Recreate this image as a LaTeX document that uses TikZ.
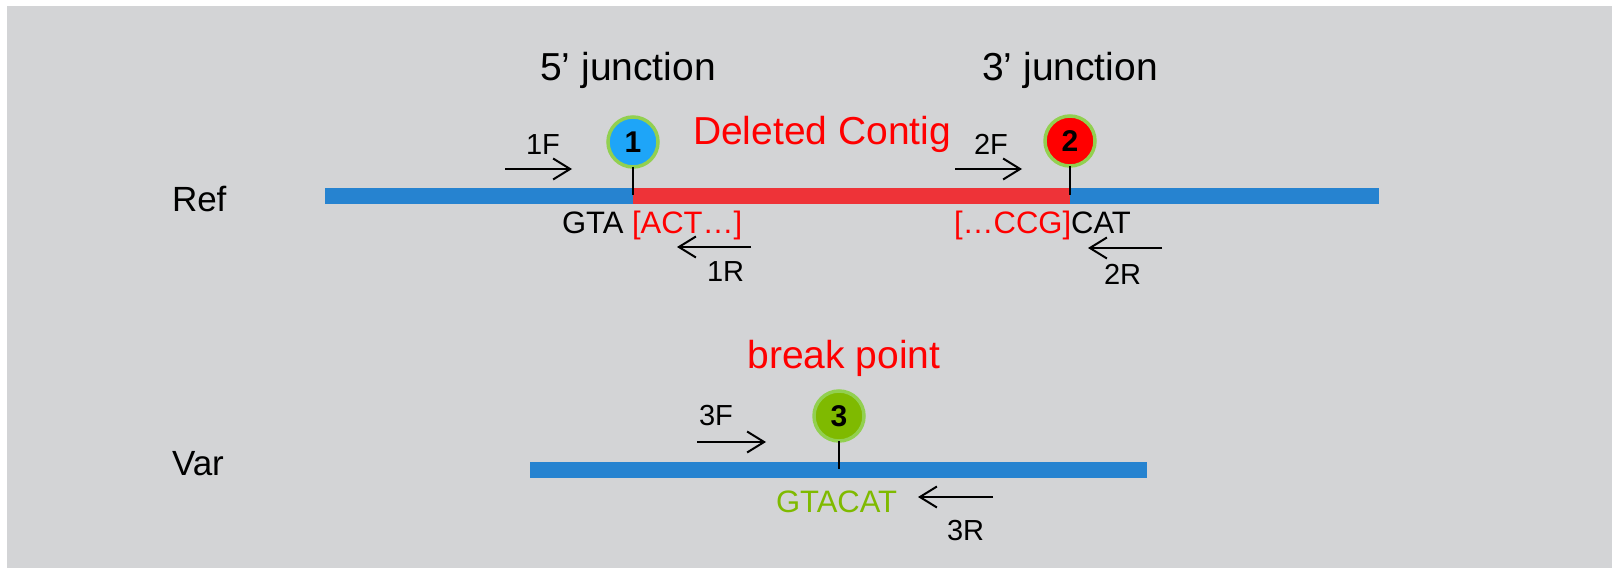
\documentclass[tikz,border=0pt]{standalone}
\usepackage{fontspec}
\setmainfont{Liberation Sans}
\usetikzlibrary{arrows.meta}
\definecolor{panel}{RGB}{211,212,214}
\definecolor{seqblue}{RGB}{38,131,208}
\definecolor{seqred}{RGB}{238,51,56}
\definecolor{dotblue}{RGB}{30,165,248}
\definecolor{dotred}{RGB}{255,0,0}
\definecolor{dotgreen}{RGB}{127,186,0}
\definecolor{ringgreen}{RGB}{146,208,80}
\definecolor{txtred}{RGB}{255,0,0}
\definecolor{txtgreen}{RGB}{127,186,0}
\tikzset{
  every node/.style={inner sep=0pt, outer sep=0pt},
  bigtxt/.style={font=\fontsize{39}{46}\selectfont},
  rowtxt/.style={font=\fontsize{35}{42}\selectfont, anchor=base west},
  primertxt/.style={font=\fontsize{29}{35}\selectfont, anchor=base west},
  seqtxt/.style={font=\fontsize{31}{37}\selectfont, anchor=base west},
  seqbar/.style={line width=16pt},
  junction/.style={circle, draw=ringgreen, line width=3.5pt, minimum size=50pt,
    font=\fontsize{30}{36}\selectfont\bfseries},
  stem/.style={line width=2pt, black},
  primer/.style={line width=2pt, black, -{Straight Barb[length=17pt, width=21pt, line width=2pt]}}
}
\begin{document}
\begin{tikzpicture}[x=1pt, y=-1pt]
\useasboundingbox (0,0) rectangle (1612,569);
\fill[panel] (7,6) rectangle (1612,568);

% reference sequence
\coordinate (refL) at (325,196);
\coordinate (j1) at (633,196);
\coordinate (j2) at (1070,196);
\coordinate (refR) at (1379,196);
\draw[seqbar, seqblue] (refL) -- (j1);
\draw[seqbar, seqred] (j1) -- (j2);
\draw[seqbar, seqblue] (j2) -- (refR);

% variant sequence
\coordinate (varL) at (530,470);
\coordinate (j3) at (839,470);
\coordinate (varR) at (1147,470);
\draw[seqbar, seqblue] (varL) -- (varR);

% junction markers
\node[junction, fill=dotblue] (c1) at (633,142) {1};
\node[junction, fill=dotred] (c2) at (1070,141) {2};
\node[junction, fill=dotgreen] (c3) at (839,416) {3};
\draw[stem] (c1.south) -- ([yshift=1pt]j1);
\draw[stem] (c2.south) -- ([yshift=1pt]j2);
\draw[stem] (c3.south) -- ([yshift=1pt]j3);

% headings
\node[bigtxt] (h5) at (628,70) {5’ junction};
\node[bigtxt] (h3) at (1070,70) {3’ junction};
\node[bigtxt, text=txtred] (del) at (822,134) {Deleted Contig};
\node[bigtxt, text=txtred] (bp) at (844,358) {break point};

% row labels
\node[rowtxt] (lref) at (172,212) {Ref};
\node[rowtxt] (lvar) at (172,475) {Var};

% sequences at the junctions
\node[seqtxt] (s1a) at (562,234) {GTA};
\node[seqtxt, text=txtred] (s1b) at (632,234) {[ACT…]};
\node[seqtxt, text=txtred] (s2a) at (954,234) {[…CCG]};
\node[seqtxt] (s2b) at (s2a.base east) {CAT};
\node[seqtxt, text=txtgreen] (s3) at (776,512) {GTACAT};

% primers
\coordinate (p1Fa) at (505,169); \coordinate (p1Fb) at (572,169);
\coordinate (p1Ra) at (751,247); \coordinate (p1Rb) at (677,247);
\coordinate (p2Fa) at (955,169); \coordinate (p2Fb) at (1022,169);
\coordinate (p2Ra) at (1162,248); \coordinate (p2Rb) at (1088,248);
\coordinate (p3Fa) at (697,442); \coordinate (p3Fb) at (766,442);
\coordinate (p3Ra) at (993,497); \coordinate (p3Rb) at (918,497);
\draw[primer] (p1Fa) -- (p1Fb);
\draw[primer] (p1Ra) -- (p1Rb);
\draw[primer] (p2Fa) -- (p2Fb);
\draw[primer] (p2Ra) -- (p2Rb);
\draw[primer] (p3Fa) -- (p3Fb);
\draw[primer] (p3Ra) -- (p3Rb);
\node[primertxt] (t1F) at (526,155) {1F};
\node[primertxt] (t1R) at (707,282) {1R};
\node[primertxt] (t2F) at (974,155) {2F};
\node[primertxt] (t2R) at (1104,285) {2R};
\node[primertxt] (t3F) at (699,425) {3F};
\node[primertxt] (t3R) at (947,540) {3R};
\end{tikzpicture}
\end{document}
